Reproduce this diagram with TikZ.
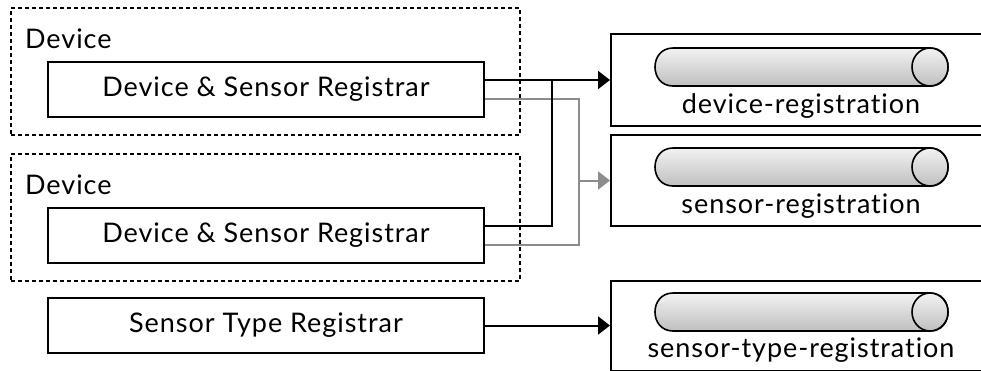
\documentclass[tikz,border=0pt]{standalone}
\usepackage{fontspec}
\setmainfont[LetterSpace=3.5,Ligatures=NoCommon]{Lato}
\usetikzlibrary{arrows.meta,calc}
\definecolor{linegray}{RGB}{140,140,140}
\begin{document}
\begin{tikzpicture}[x=1pt,y=-1pt,
  lw/.style={line width=2pt},
  txt/.style={font=\fontsize{27}{32}\selectfont},
  devbox/.style={draw,line width=2pt,dash pattern=on 4pt off 3pt,minimum width=509pt,minimum height=127pt,inner sep=0pt},
  regbox/.style={draw,lw,txt,minimum width=436pt,minimum height=55pt,inner sep=0pt},
  topicbox/.style={draw,lw,minimum width=380pt,inner sep=0pt},
  tubeline/.style={draw,line width=1.6pt,top color=gray!10,bottom color=gray!50},
  blk/.style={lw,black},
  gry/.style={lw,linegray},
  tip/.style={-{Triangle[length=12pt,width=18pt]}},
  tubepic/.pic={
    \path[tubeline] (128.5,-19) -- (-128.5,-19)
      .. controls (-152.5,-19) and (-152.5,19) .. (-128.5,19)
      -- (128.5,19)
      .. controls (152.5,19) and (152.5,-19) .. (128.5,-19) -- cycle;
    \path[tubeline] (128.5,0) ellipse [x radius=18, y radius=19];
  }
]
\useasboundingbox (0,0) rectangle (981,370);
\clip (0,0) rectangle (981,370);
% device groups
\node[devbox] (dev1) at (265.5,71.5) {};
\node[devbox] (dev2) at (265.5,217.5) {};
\node[txt,anchor=base west,inner sep=0pt] (dev1lab) at (25,48) {Device};
\node[txt,anchor=base west,inner sep=0pt] (dev2lab) at (25,194) {Device};
% registrars
\node[regbox] (dsr1) at (266,89.5) {Device \& Sensor Registrar};
\node[regbox] (dsr2) at (266,235) {Device \& Sensor Registrar};
\node[regbox] (str) at (266,325.5) {Sensor Type Registrar};
% topic boxes
\node[topicbox,minimum height=92pt] (box1) at (801,80) {};
\node[topicbox,minimum height=91pt] (box2) at (801,180.5) {};
\node[topicbox,minimum height=90pt] (box3) at (801,326) {};
% cylinders
\coordinate (cyl1) at (801.5,67);
\coordinate (cyl2) at (801.5,167);
\coordinate (cyl3) at (801.5,312);
\pic at (cyl1) {tubepic};
\pic at (cyl2) {tubepic};
\pic at (cyl3) {tubepic};
\node[txt,anchor=base,inner sep=0pt] (lab1) at (801,113) {device-registration};
\node[txt,anchor=base,inner sep=0pt] (lab2) at (801,213) {sensor-registration};
\node[txt,anchor=base,inner sep=0pt] (lab3) at (801,357) {sensor-type-registration};
% connector points
\coordinate (d1a) at ($(dsr1.north east)!1/3!(dsr1.south east)$);
\coordinate (d1b) at ($(dsr1.north east)!2/3!(dsr1.south east)$);
\coordinate (d2a) at ($(dsr2.north east)!1/3!(dsr2.south east)$);
\coordinate (d2b) at ($(dsr2.north east)!2/3!(dsr2.south east)$);
\coordinate (jb) at (552,0);
\coordinate (jg) at (579,0);
% gray connectors
\draw[gry] (d1b) -| (jg |- box2.west);
\draw[gry] (d2b) -| (jg |- box2.west);
\draw[gry,tip] (jg |- box2.west) -- (box2.west);
% black connectors
\draw[blk,tip] (d1a) -- (d1a -| box1.west);
\draw[blk] (d2a) -| (d1a -| jb);
\draw[blk,tip] (str.east) -- (str.east -| box3.west);
\end{tikzpicture}
\end{document}
